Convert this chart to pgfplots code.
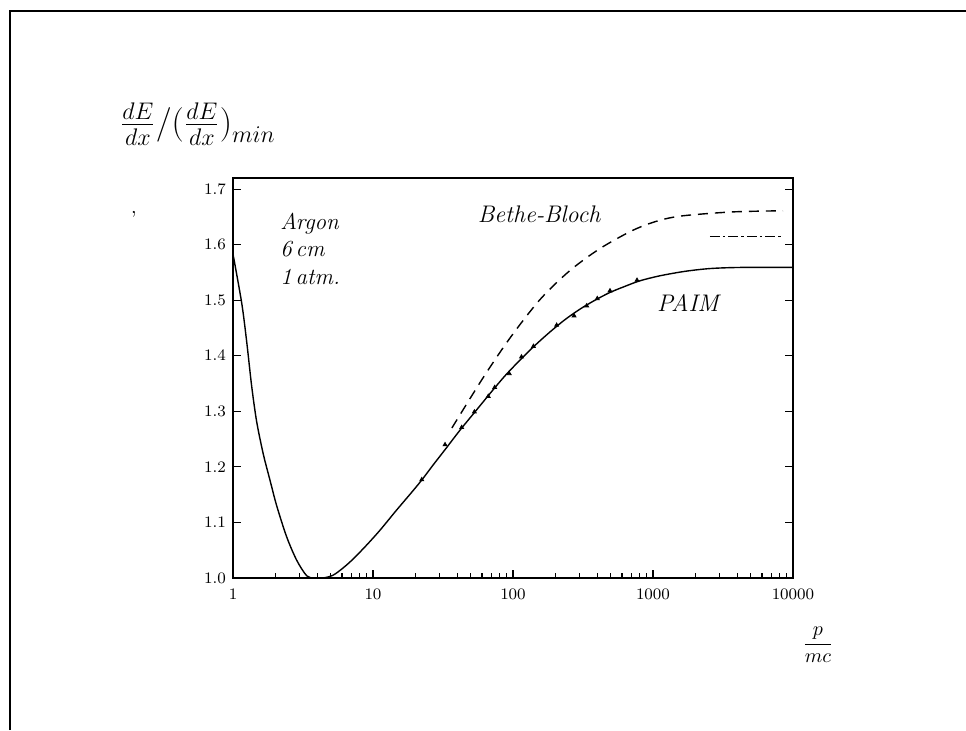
\documentclass[border=0pt]{standalone}
\usepackage{pgfplots}
\pgfplotsset{compat=1.18}
\begin{document}
\begin{tikzpicture}
\useasboundingbox (0,0) rectangle (483pt,365pt);
\draw[line width=1pt] (5pt,0pt) -- (5pt,359.5pt) -- (483pt,359.5pt);
\begin{axis}[
  at={(116.5pt,76pt)}, anchor=south west,
  scale only axis, width=280pt, height=200pt,
  xmode=log, xmin=1, xmax=10000, ymin=1.0, ymax=1.72,
  xtick={1,10,100,1000,10000}, xticklabels={1,10,100,1000,10000},
  ytick={1.0,1.1,1.2,1.3,1.4,1.5,1.6,1.7},
  yticklabel style={/pgf/number format/.cd, fixed, fixed zerofill, precision=1},
  xticklabel style={yshift=-2pt},
  ticklabel style={font=\footnotesize},
  xtick pos=left, ytick pos=both,
  tick align=inside,
  major tick length=4pt, minor tick length=2.5pt,
  axis line style={line width=0.8pt},
  every tick/.style={black, line width=0.6pt},
  clip=false,
]
% PAIM (solid)
\addplot[black, line width=0.7pt, smooth, tension=0.5] coordinates {
(1.000,1.583) (1.154,1.495) (1.253,1.425) (1.360,1.345) (1.477,1.281)
(1.646,1.223) (1.838,1.176) (2.052,1.130) (2.418,1.074) (2.851,1.032)
(3.361,1.004) (3.80,1.000) (4.40,1.000) (5.18,1.005) (6.11,1.018)
(7.20,1.034) (8.91,1.058) (11.22,1.086) (14.6,1.121) (19.3,1.157)
(22.4,1.177) (26.8,1.203) (32.7,1.231) (41.8,1.266) (53.5,1.299)
(68.5,1.332) (87.7,1.364) (112,1.392) (144,1.419) (184,1.443)
(235,1.465) (301,1.484) (385,1.500) (493,1.514) (631,1.525) (807,1.535)
(1122,1.544) (1693,1.552) (2553,1.557) (4182,1.559) (10000,1.559)};
% Bethe-Bloch (dashed)
\addplot[black, line width=0.7pt, dash pattern=on 5pt off 3.5pt, smooth, tension=0.5] coordinates {
(36.6,1.270) (61.0,1.360) (95.2,1.432) (155.7,1.501) (254,1.553) (418,1.593)
(720,1.626) (1087,1.643) (1638,1.652) (3728,1.659) (8485,1.661)};
% dash-dot level
\addplot[black, line width=0.6pt, dash pattern=on 5pt off 1.5pt on 1.2pt off 1.5pt] coordinates {
(2553,1.614) (8485,1.614)};
% data points
\addplot[black, only marks, mark=triangle*, mark size=1.1pt] coordinates {
(22.3,1.177) (32.7,1.240) (43,1.271) (53,1.299) (66.6,1.327) (74,1.343)
(94,1.368) (115,1.398) (140,1.417) (205,1.455) (273,1.472) (336,1.490)
(400,1.503) (493,1.517) (769,1.536)};
\node[anchor=base west, font=\fontsize{11.5}{14}\selectfont\itshape] at (axis cs:1.94,1.627) {Argon};
\node[anchor=base west, font=\fontsize{11.5}{14}\selectfont\itshape] at (axis cs:1.94,1.578) {6\,cm};
\node[anchor=base west, font=\fontsize{11.5}{14}\selectfont\itshape] at (axis cs:1.94,1.528) {1\,atm.};
\node[anchor=base west, font=\fontsize{12}{14}\selectfont\itshape] at (axis cs:50,1.640) {Bethe-Bloch};
\node[anchor=base west, font=\fontsize{12}{14}\selectfont\itshape] at (axis cs:953,1.479) {PAIM};
\end{axis}
\node[anchor=west, font=\LARGE] at (56.5pt,303pt) {$\frac{dE}{dx}\Big/\Big(\frac{dE}{dx}\Big)_{min}$};
\node at (409pt,42.5pt) {$\displaystyle\frac{p}{mc}$};
\node[anchor=base] at (67pt,258pt) {,};
\end{tikzpicture}
\end{document}
